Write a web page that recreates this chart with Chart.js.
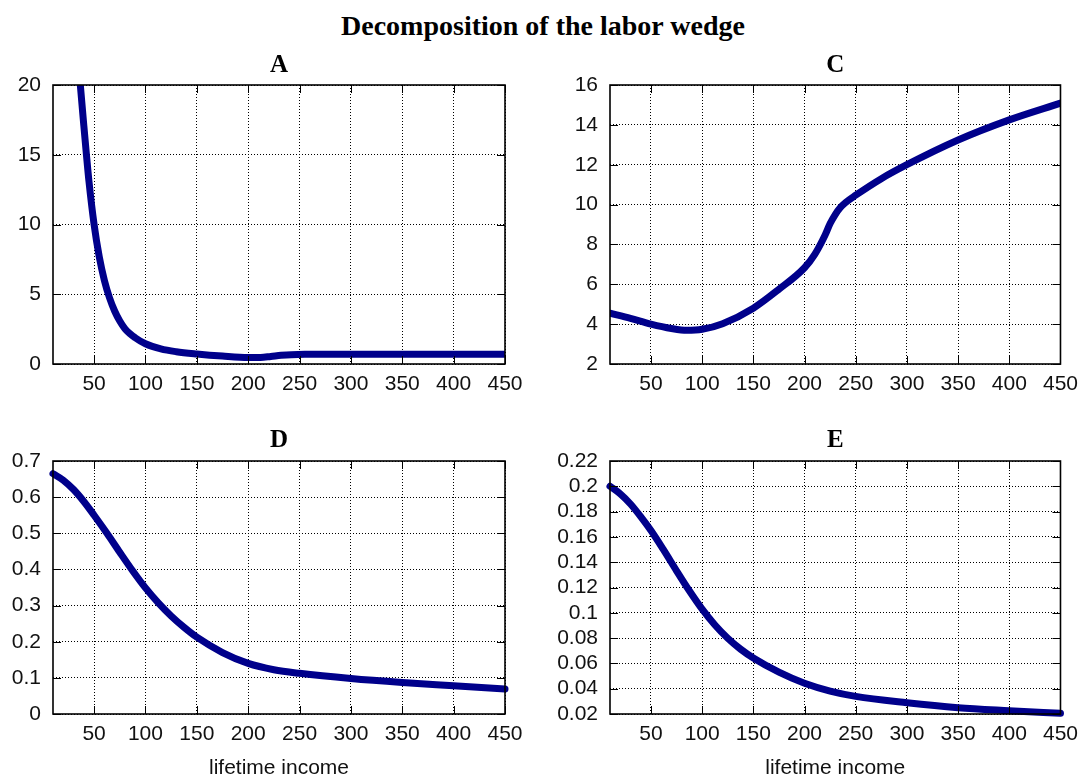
<!DOCTYPE html>
<html>
<head>
<meta charset="utf-8">
<script src="https://cdn.jsdelivr.net/npm/chart.js@4"></script>
<style>
  html, body { margin: 0; padding: 0; background: #fff; overflow: hidden; }
  #page { position: relative; width: 1086px; height: 777px; }
  #title {
    position: absolute; left: 0; top: 10px; width: 1086px; text-align: center; line-height: 30px;
    font: bold 28px "Liberation Serif", "Times New Roman", serif; color: #000;
  }
  .panel { position: absolute; }
</style>
</head>
<body>
<div id="page">
  <div id="title">Decomposition of the labor wedge</div>
  <div class="panel" style="left:0;top:40px;width:540px;height:370px"><canvas id="panelA"></canvas></div>
  <div class="panel" style="left:543px;top:40px;width:543px;height:370px"><canvas id="panelC"></canvas></div>
  <div class="panel" style="left:0;top:420px;width:540px;height:359px"><canvas id="panelD"></canvas></div>
  <div class="panel" style="left:543px;top:420px;width:543px;height:359px"><canvas id="panelE"></canvas></div>
</div>
<script>
// lifetime income grid shared by all panels
let incomeTicks = [50, 100, 150, 200, 250, 300, 350, 400, 450];

// A
let incomeA = [33, 36.6, 40, 42.3, 45, 50, 55, 60, 65, 70, 75, 80, 90, 100, 115, 130, 150, 175, 200, 212, 222, 232, 242, 255, 300, 350, 400, 450];
let wedgeA = [23.5, 20, 17.1, 15.2, 13.1, 10, 7.7, 6.0, 4.75, 3.8, 3.08, 2.53, 1.88, 1.45, 1.08, 0.88, 0.72, 0.57, 0.47, 0.47, 0.54, 0.62, 0.67, 0.69, 0.69, 0.69, 0.69, 0.69];
let ticksA = [0, 5, 10, 15, 20];

// C
let incomeC = [10, 30, 50, 70, 85, 100, 120, 150, 175, 200, 210, 220, 225, 230, 235, 240, 250, 275, 300, 350, 400, 450];
let wedgeC = [4.55, 4.29, 4.0, 3.78, 3.69, 3.74, 4.02, 4.8, 5.75, 6.83, 7.5, 8.46, 9.05, 9.5, 9.85, 10.1, 10.47, 11.3, 12.0, 13.24, 14.25, 15.09];
let ticksC = [2, 4, 6, 8, 10, 12, 14, 16];

// D
let incomeD = [10, 20, 30, 40, 50, 62.5, 75, 87.5, 100, 112.5, 125, 137.5, 150, 175, 200, 225, 250, 300, 350, 400, 450];
let wedgeD = [0.665, 0.647, 0.621, 0.588, 0.55, 0.5, 0.4475, 0.3963, 0.3488, 0.3075, 0.2713, 0.24, 0.2125, 0.17, 0.14, 0.1225, 0.1125, 0.098, 0.087, 0.078, 0.069];
let ticksD = [0, 0.1, 0.2, 0.3, 0.4, 0.5, 0.6, 0.7];

// E
let incomeE = [10, 20, 30, 40, 50, 62.5, 75, 87.5, 100, 112.5, 125, 137.5, 150, 175, 200, 225, 250, 300, 350, 400, 450];
let wedgeE = [0.2, 0.194, 0.186, 0.176, 0.165, 0.1495, 0.1332, 0.1174, 0.1029, 0.0904, 0.0799, 0.0713, 0.0643, 0.0531, 0.0443, 0.0381, 0.0339, 0.0289, 0.025, 0.0226, 0.0205];
let ticksE = [0.02, 0.04, 0.06, 0.08, 0.1, 0.12, 0.14, 0.16, 0.18, 0.2, 0.22];

let tickFont = { family: "'Liberation Sans', Arial, sans-serif", size: 21 };

// box around the plot plus gnuplot-style inward tick marks on all four sides
let framePlugin = {
  id: "frame",
  afterDatasetsDraw(chart) {
    let ctx = chart.ctx;
    let a = chart.chartArea;
    let x = chart.scales.x;
    let y = chart.scales.y;
    ctx.save();
    ctx.strokeStyle = "#000";
    ctx.lineWidth = 1;
    ctx.beginPath();
    x.ticks.forEach((t) => {
      let px = Math.round(x.getPixelForValue(t.value)) + 0.5;
      ctx.moveTo(px, a.bottom);
      ctx.lineTo(px, a.bottom - 8);
      ctx.moveTo(px, a.top);
      ctx.lineTo(px, a.top + 8);
    });
    y.ticks.forEach((t) => {
      let py = Math.round(y.getPixelForValue(t.value)) + 0.5;
      ctx.moveTo(a.left, py);
      ctx.lineTo(a.left + 8, py);
      ctx.moveTo(a.right, py);
      ctx.lineTo(a.right - 8, py);
    });
    ctx.stroke();
    ctx.lineWidth = 1.6;
    ctx.strokeRect(a.left, a.top, a.right - a.left, a.bottom - a.top);
    ctx.restore();
  },
};

function makePanel(id, name, xs, ys, yTicks, o) {
  let points = xs.map((v, i) => ({ x: v, y: ys[i] }));
  return new Chart(document.getElementById(id), {
    type: "line",
    data: {
      datasets: [
        {
          data: points,
          borderColor: "#00008b",
          borderWidth: 7,
          pointRadius: 0,
          cubicInterpolationMode: "monotone",
          borderCapStyle: "round",
          borderJoinStyle: "round",
          clip: o.clip,
        },
      ],
    },
    options: {
      responsive: true,
      maintainAspectRatio: false,
      animation: false,
      events: [],
      layout: { padding: { left: 0, right: o.right, top: 0, bottom: 0 } },
      plugins: {
        legend: { display: false },
        tooltip: { enabled: false },
        title: {
          display: true,
          text: name,
          fullSize: false,
          color: "#000",
          font: { family: "'Liberation Serif', 'Times New Roman', serif", size: 25, weight: "bold", lineHeight: 1.2 },
          padding: { top: o.titleTop, bottom: o.titleBottom },
        },
      },
      scales: {
        x: {
          type: "linear",
          min: 10,
          max: 450,
          afterBuildTicks: (axis) => {
            axis.ticks = incomeTicks.map((v) => ({ value: v }));
          },
          afterFit: (axis) => {
            axis.height = o.xHeight;
          },
          grid: { color: "#000", lineWidth: 1, drawTicks: false },
          border: { display: false, dash: [1, 2] },
          ticks: { color: "#111", font: tickFont, padding: 8, maxRotation: 0, autoSkip: false },
          title: {
            display: !!o.xTitle,
            text: o.xTitle || "",
            color: "#111",
            font: { family: "'Liberation Sans', Arial, sans-serif", size: 21, lineHeight: 1 },
            padding: { top: 0, bottom: 0 },
          },
        },
        y: {
          type: "linear",
          min: yTicks[0],
          max: yTicks[yTicks.length - 1],
          afterBuildTicks: (axis) => {
            axis.ticks = yTicks.map((v) => ({ value: v }));
          },
          afterFit: (axis) => {
            axis.width = o.yWidth;
          },
          grid: { color: "#000", lineWidth: 1, drawTicks: false },
          border: { display: false, dash: [1, 2] },
          ticks: {
            color: "#111",
            font: tickFont,
            padding: 12,
            autoSkip: false,
            callback: (v) => String(parseFloat(Number(v).toFixed(3))),
          },
        },
      },
    },
    plugins: [framePlugin],
  });
}

makePanel("panelA", "A", incomeA, wedgeA, ticksA, { yWidth: 53, right: 35, titleTop: 11, titleBottom: 4, xHeight: 46, clip: 0 });
makePanel("panelC", "C", incomeC, wedgeC, ticksC, { yWidth: 67, right: 24, titleTop: 11, titleBottom: 4, xHeight: 46, clip: 0 });
makePanel("panelD", "D", incomeD, wedgeD, ticksD, { yWidth: 53, right: 35, titleTop: 6, titleBottom: 5, xHeight: 65, xTitle: "lifetime income", clip: 4 });
makePanel("panelE", "E", incomeE, wedgeE, ticksE, { yWidth: 67, right: 24, titleTop: 6, titleBottom: 5, xHeight: 65, xTitle: "lifetime income", clip: 4 });
</script>
</body>
</html>
